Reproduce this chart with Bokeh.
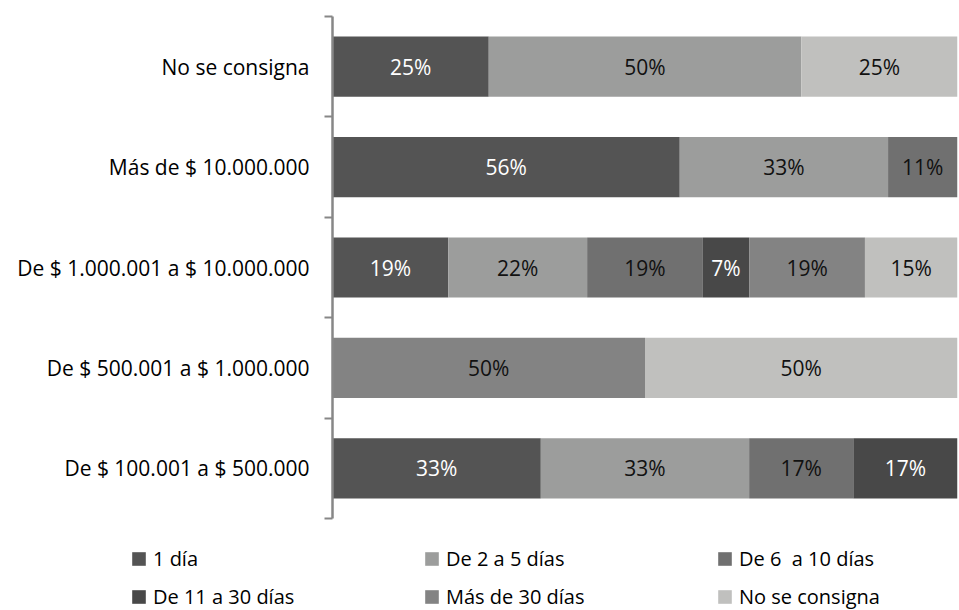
from bokeh.plotting import figure
from bokeh.layouts import column
from bokeh.models import ColumnDataSource, FixedTicker, Legend, LegendItem, Range1d
from bokeh.core.properties import value
from bokeh.embed import file_html
from bokeh.resources import INLINE

# Amount brackets, listed from the bottom bar to the top bar
categories = [
    "De $ 100.001 a $ 500.000",
    "De $ 500.001 a $ 1.000.000",
    "De $ 1.000.001 a $ 10.000.000",
    "Más de $ 10.000.000",
    "No se consigna",
]

# Time-to-resolution groups (stack order, left to right)
series = [
    "1 día",
    "De 2 a 5 días",
    "De 6  a 10 días",
    "De 11 a 30 días",
    "Más de 30 días",
    "No se consigna",
]

# Share of cases (%) per bracket, same order as `categories`
dia_1 = [33.33, 0, 18.52, 55.56, 25]
dias_2_5 = [33.33, 0, 22.22, 33.33, 50]
dias_6_10 = [16.67, 0, 18.52, 11.11, 0]
dias_11_30 = [16.67, 0, 7.41, 0, 0]
mas_30 = [0, 50, 18.52, 0, 0]
no_consigna = [0, 50, 14.81, 0, 25]

shares = [dia_1, dias_2_5, dias_6_10, dias_11_30, mas_30, no_consigna]

fills = ["#545454", "#9c9d9c", "#707070", "#484848", "#838383", "#c0c0be"]
text_colors = ["#ffffff", "#111111", "#111111", "#ffffff", "#111111", "#111111"]

FONT = "Open Sans"
W = 959

p = figure(
    width=W, height=526,
    output_backend="svg", toolbar_location=None, tools="",
    x_range=Range1d(0, 100), y_range=Range1d(0, len(categories)),
    min_border_left=332, min_border_right=2,
    min_border_top=16, min_border_bottom=8,
)
p.outline_line_color = None
p.xgrid.visible = False
p.ygrid.visible = False
p.xaxis.visible = False
p.frame_align = False

# Category axis: labels at band centres, tick marks at band edges
yax = p.yaxis[0]
centers = [i + 0.5 for i in range(len(categories))]
yax.ticker = FixedTicker(ticks=centers, minor_ticks=list(range(len(categories) + 1)))
yax.major_label_overrides = {c: lab for c, lab in zip(centers, categories)}
yax.major_tick_line_color = None
yax.major_tick_out = 8
yax.major_tick_in = 0
yax.minor_tick_out = 8
yax.minor_tick_in = 0
yax.minor_tick_line_color = "#878787"
yax.minor_tick_line_width = 2
yax.axis_line_color = "#878787"
yax.axis_line_width = 2.5
yax.major_label_standoff = 15
yax.major_label_text_font = FONT
yax.major_label_text_font_size = "21px"
yax.major_label_text_color = "#000000"

# Stacked horizontal bars, one renderer per group
cum = [0.0] * len(categories)
for name, vals, fill, tcol in zip(series, shares, fills, text_colors):
    ys, lefts, rights, labels = [], [], [], []
    for i, v in enumerate(vals):
        if v > 0:
            ys.append(i + 0.5)
            lefts.append(cum[i])
            rights.append(cum[i] + v)
            labels.append(f"{v:.0f}%")
        cum[i] += v
    src = ColumnDataSource(dict(
        y=ys, left=lefts, right=rights,
        mid=[(a + b) / 2 for a, b in zip(lefts, rights)], label=labels,
    ))
    p.hbar(y="y", left="left", right="right", height=0.6, source=src,
           fill_color=fill, line_color=None)
    p.text(x="mid", y="y", text="label", source=src,
           text_align="center", text_baseline="middle",
           text_color=tcol, text_font=value(FONT), text_font_size="21px")

# Legend strip underneath: swatch renderers carry the series colours only
lg = figure(
    width=W, height=610 - 526,
    output_backend="svg", toolbar_location=None, tools="",
    x_range=Range1d(0, 1), y_range=Range1d(0, 1),
    min_border=0,
)
lg.outline_line_color = None
lg.axis.visible = False
lg.grid.visible = False
lg.frame_align = False

nan = float("nan")
swatches = [
    lg.hbar(y=[nan], left=[nan], right=[nan], height=1, fill_color=fill, line_color=None)
    for fill in fills
]

legend = Legend(
    items=[LegendItem(label=s, renderers=[r]) for s, r in zip(series, swatches)],
    location=(130, 0),
    orientation="horizontal",
    ncols=3,
    glyph_width=17, glyph_height=17,
    label_standoff=6,
    label_width=259,
    label_text_font=FONT, label_text_font_size="20px",
    label_text_color="#000000",
    label_height=20,
    spacing=11,
    padding=0, margin=0,
    border_line_color=None,
    background_fill_alpha=0,
)
lg.add_layout(legend, "center")

layout = column(p, lg, spacing=0)
open("out.html", "w").write(file_html(layout, INLINE))
